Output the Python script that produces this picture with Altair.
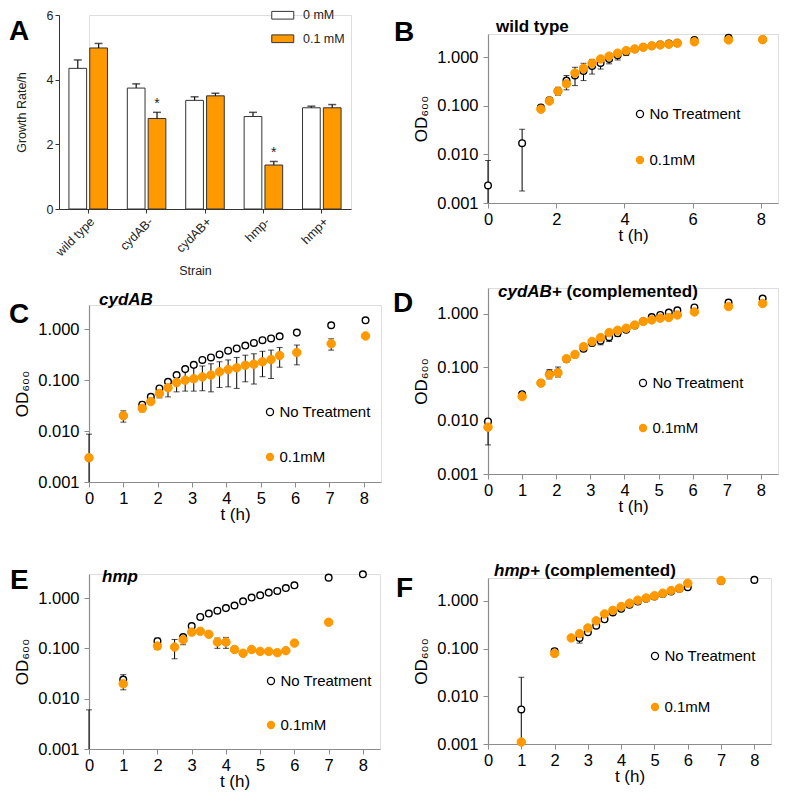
import altair as alt
import pandas as pd

FONT = "Liberation Sans"
ORANGE = "#FF9900"
GREY = "#8c8c8c"
SERIES = ["No Treatment", "0.1mM"]

# ---------------- Panel A : growth rates ----------------
strains = ["wild type", "cydAB-", "cydAB+", "hmp-", "hmp+"]
conditions = ["0 mM", "0.1 mM"]
rate_0mM = [4.35, 3.74, 3.36, 2.86, 3.13]
err_0mM = [0.26, 0.13, 0.11, 0.13, 0.05]
rate_01mM = [4.98, 2.80, 3.50, 1.36, 3.13]
err_01mM = [0.14, 0.19, 0.08, 0.11, 0.10]
sig_01mM = ["", "*", "", "*", ""]

# ---------------- Panel B : wild type ----------------
tB_nt = [0, 1, 1.55, 1.8, 2.05, 2.3, 2.55, 2.8, 3.05, 3.3, 3.55, 3.8, 4.05, 4.3, 4.55, 4.8, 5.05, 5.3, 5.55, 6.05, 7.05, 8.05]
odB_nt = [0.0023, 0.017, 0.092, 0.13, 0.2, 0.33, 0.42, 0.52, 0.66, 0.76, 0.92, 1.1, 1.3, 1.45, 1.6, 1.72, 1.82, 1.9, 1.97, 2.25, 2.5, 2.3]
tB_tr = [1.55, 1.8, 2.05, 2.3, 2.55, 2.8, 3.05, 3.3, 3.55, 3.8, 4.05, 4.3, 4.55, 4.8, 5.05, 5.3, 5.55, 6.05, 7.05, 8.05]
odB_tr = [0.085, 0.125, 0.2, 0.283, 0.47, 0.59, 0.75, 0.92, 1.05, 1.21, 1.37, 1.48, 1.6, 1.71, 1.79, 1.85, 1.94, 2.07, 2.27, 2.3]
errB_t = [0, 1, 2.05, 2.3, 2.55, 2.8, 3.05, 3.3, 3.55, 3.8, 4.05]
errB_lo = [0.001, 0.00177, 0.165, 0.213, 0.26, 0.33, 0.45, 0.57, 0.73, 0.88, 1.08]
errB_hi = [0.0075, 0.033, 0.24, 0.42, 0.62, 0.75, 0.9, 0.98, 1.12, 1.3, 1.5]

# ---------------- Panel C : cydAB ----------------
tC_nt = [0, 1, 1.55, 1.8, 2.05, 2.3, 2.55, 2.8, 3.05, 3.3, 3.55, 3.8, 4.05, 4.3, 4.55, 4.8, 5.05, 5.3, 5.55, 6.05, 7.05, 8.05]
odC_nt = [0.003, 0.02, 0.033, 0.047, 0.069, 0.093, 0.126, 0.165, 0.2, 0.25, 0.28, 0.32, 0.38, 0.42, 0.48, 0.54, 0.61, 0.66, 0.73, 0.86, 1.2, 1.5]
tC_tr = [0, 1, 1.55, 1.8, 2.05, 2.3, 2.55, 2.8, 3.05, 3.3, 3.55, 3.8, 4.05, 4.3, 4.55, 4.8, 5.05, 5.3, 5.55, 6.05, 7.05, 8.05]
odC_tr = [0.003, 0.02, 0.028, 0.038, 0.055, 0.071, 0.09, 0.1, 0.107, 0.116, 0.126, 0.146, 0.162, 0.175, 0.197, 0.206, 0.23, 0.255, 0.305, 0.35, 0.52, 0.74]
errC_t = [0, 1, 1.55, 2.05, 2.3, 2.55, 2.8, 3.05, 3.3, 3.55, 3.8, 4.05, 4.3, 4.55, 4.8, 5.05, 5.3, 5.55, 6.05, 7.05]
errC_lo = [0.001, 0.015, 0.024, 0.045, 0.047, 0.059, 0.061, 0.061, 0.062, 0.059, 0.072, 0.074, 0.069, 0.093, 0.084, 0.117, 0.108, 0.18, 0.2, 0.39]
errC_hi = [0.0087, 0.025, 0.037, 0.068, 0.1, 0.117, 0.157, 0.18, 0.19, 0.21, 0.23, 0.25, 0.28, 0.31, 0.33, 0.37, 0.39, 0.44, 0.49, 0.65]

# ---------------- Panel D : cydAB+ (complemented) ----------------
tD = [0, 1, 1.55, 1.8, 2.05, 2.3, 2.55, 2.8, 3.05, 3.3, 3.55, 3.8, 4.05, 4.3, 4.55, 4.8, 5.05, 5.3, 5.55, 6.05, 7.05, 8.05]
odD_nt = [0.0096, 0.031, 0.05, 0.075, 0.08, 0.14, 0.17, 0.22, 0.28, 0.31, 0.36, 0.43, 0.5, 0.6, 0.72, 0.86, 0.94, 1.04, 1.15, 1.3, 1.6, 1.9]
odD_tr = [0.0075, 0.028, 0.05, 0.072, 0.078, 0.143, 0.172, 0.24, 0.30, 0.355, 0.44, 0.486, 0.53, 0.61, 0.71, 0.76, 0.82, 0.84, 0.94, 1.07, 1.35, 1.54]
errD_t = [0, 1.8, 2.05, 2.8, 3.05, 3.3, 3.55, 3.8]
errD_lo = [0.0035, 0.06, 0.065, 0.2, 0.25, 0.26, 0.3, 0.37]
errD_hi = [0.0105, 0.09, 0.1, 0.27, 0.33, 0.36, 0.42, 0.47]

# ---------------- Panel E : hmp ----------------
tE_nt = [1, 2, 2.75, 3, 3.25, 3.5, 3.75, 4, 4.25, 4.5, 4.75, 5, 5.25, 5.5, 5.75, 6, 7, 8]
odE_nt = [0.024, 0.139, 0.167, 0.277, 0.42, 0.49, 0.56, 0.63, 0.71, 0.86, 1.02, 1.13, 1.28, 1.38, 1.58, 1.79, 2.54, 2.96]
tE_tr = [1, 2, 2.5, 2.75, 3, 3.25, 3.5, 3.75, 4, 4.25, 4.5, 4.75, 5, 5.25, 5.5, 5.75, 6, 7]
odE_tr = [0.0197, 0.111, 0.106, 0.148, 0.21, 0.218, 0.19, 0.133, 0.133, 0.095, 0.08, 0.095, 0.087, 0.087, 0.082, 0.09, 0.127, 0.33]
errE_t = [0, 1, 2, 2.5, 2.75, 3.75, 4, 4.25, 5.25]
errE_lo = [0.001, 0.015, 0.095, 0.062, 0.118, 0.1, 0.1, 0.085, 0.078]
errE_hi = [0.006, 0.03, 0.16, 0.15, 0.175, 0.16, 0.165, 0.1, 0.095]

# ---------------- Panel F : hmp+ (complemented) ----------------
tF_nt = [1, 2, 2.75, 3, 3.25, 3.5, 3.75, 4, 4.25, 4.5, 4.75, 5, 5.25, 5.5, 5.75, 6, 7, 8]
odF_nt = [0.0053, 0.088, 0.167, 0.22, 0.3, 0.41, 0.57, 0.68, 0.83, 0.97, 1.1, 1.23, 1.38, 1.56, 1.78, 1.93, 2.6, 2.74]
tF_tr = [1, 2, 2.5, 2.75, 3, 3.25, 3.5, 3.75, 4, 4.25, 4.5, 4.75, 5, 5.25, 5.5, 5.75, 6, 7]
odF_tr = [0.0011, 0.079, 0.167, 0.205, 0.27, 0.38, 0.53, 0.63, 0.76, 0.89, 1.03, 1.14, 1.27, 1.44, 1.64, 1.84, 2.33, 2.65]
errF_t = [1, 2, 2.75]
errF_lo = [0.001, 0.07, 0.13]
errF_hi = [0.025, 0.1, 0.2]


def text_at(txt, x, y, size, weight="bold", style="normal"):
    return alt.Chart(pd.DataFrame({"label": [txt]})).mark_text(
        align="left", baseline="alphabetic", font=FONT, fontSize=size,
        fontWeight=weight, fontStyle=style, color="black"
    ).encode(x=alt.value(x), y=alt.value(y), text="label:N")


def spacer(h):
    return alt.Chart(pd.DataFrame({"label": [" "]})).mark_text(opacity=0, fontSize=1).encode(
        x=alt.value(0), y=alt.value(0), text="label:N"
    ).properties(width=1, height=h,
                 view=alt.ViewBackground(stroke="transparent", fill="transparent", strokeWidth=0))


# ---------------- build panel A ----------------
A_W = 262          # plot width; the band scale reaches 30px left of it
dfA = pd.DataFrame({
    "strain": strains * 2,
    "cond": [conditions[0]] * 5 + [conditions[1]] * 5,
    "rate": rate_0mM + rate_01mM,
    "hi": [r + e for r, e in zip(rate_0mM, err_0mM)] + [r + e for r, e in zip(rate_01mM, err_01mM)],
    "sig": [""] * 5 + sig_01mM,
})
axA_x = alt.Axis(title="Strain", labelAngle=-45, labelFont=FONT, labelFontSize=12.5, labelColor="#222",
                 titleFont=FONT, titleFontSize=12.5, titleFontWeight="normal", titleColor="#222",
                 domainColor="#333", tickColor="#333", tickSize=4, titlePadding=6, titleX=106)
axA_y = alt.Axis(title="Growth Rate/h", values=[0, 2, 4, 6], labelFont=FONT, labelFontSize=12.5, labelColor="#222",
                 titleFont=FONT, titleFontSize=12.5, titleFontWeight="normal", titleColor="#222",
                 domainColor="#333", tickColor="#333", tickSize=4, grid=False, titlePadding=18, offset=30)
xA = alt.X("strain:N", sort=strains,
           scale=alt.Scale(paddingInner=0.34, paddingOuter=0.17, range=[-30, A_W]), axis=axA_x)
xoA = alt.XOffset("cond:N", sort=conditions, scale=alt.Scale(paddingInner=0.15))
ysA = alt.Scale(domain=[0, 6], nice=False)
legA = alt.Legend(orient="none", legendX=187.5, legendY=-6, title=None,
                  symbolType="M-2,-0.7L2,-0.7L2,0.7L-2,0.7Z", symbolSize=121,
                  symbolStrokeColor="#333", symbolStrokeWidth=1, symbolOpacity=1,
                  labelFont=FONT, labelFontSize=12.5, labelColor="#222", labelOffset=14,
                  rowPadding=10.5, padding=0)
baseA = alt.Chart(dfA)
barsA = baseA.mark_bar(stroke="#333", strokeWidth=1).encode(
    x=xA, xOffset=xoA, y=alt.Y("rate:Q", scale=ysA, axis=axA_y),
    fill=alt.Fill("cond:N", sort=conditions, scale=alt.Scale(domain=conditions, range=["white", ORANGE]), legend=legA),
)
rulesA = baseA.mark_rule(color="#111", strokeWidth=1.2).encode(
    x=xA, xOffset=xoA, y=alt.Y("rate:Q", scale=ysA, axis=axA_y), y2="hi:Q")
capsA = baseA.mark_tick(color="#111", thickness=1.5, size=8).encode(
    x=xA, xOffset=xoA, y=alt.Y("hi:Q", scale=ysA, axis=axA_y))
starsA = baseA.mark_text(baseline="bottom", dy=-1, fontSize=14, font=FONT, color="#222").encode(
    x=xA, xOffset=xoA, y=alt.Y("hi:Q", scale=ysA, axis=axA_y), text="sig:N")
panelA = alt.layer(barsA, rulesA, capsA, starsA, text_at("A", -80, 25, 28)).properties(width=A_W, height=194)


# ---------------- growth curve panels ----------------
def growth_panel(t_nt, od_nt, t_tr, od_tr, e_t, e_lo, e_hi, xticks, w, h,
                 letter, letter_pos, titles, legend_pos, legend_gap):
    df_nt = pd.DataFrame({"t": list(t_nt), "od": list(od_nt), "series": [SERIES[0]] * len(t_nt)})
    df_tr = pd.DataFrame({"t": list(t_tr), "od": list(od_tr), "series": [SERIES[1]] * len(t_tr)})
    df_err = pd.DataFrame({"t": e_t, "lo": e_lo, "hi": e_hi})
    cap_t, cap_v = [], []
    for t, lo, hi in zip(e_t, e_lo, e_hi):
        if lo > 0.00105:
            cap_t.append(t)
            cap_v.append(lo)
        cap_t.append(t)
        cap_v.append(hi)
    df_cap = pd.DataFrame({"t": cap_t, "od": cap_v})

    xaxis = alt.Axis(values=xticks, format="d", title="t (h)", grid=False,
                     domainColor=GREY, tickColor=GREY, tickSize=5, domainWidth=1.2,
                     labelFont=FONT, labelFontSize=16.5, labelColor="black", labelPadding=3,
                     labelFlush=False, labelOverlap=False,
                     titleFont=FONT, titleFontSize=17, titleFontWeight="normal", titleColor="black",
                     titlePadding=0)
    yaxis = alt.Axis(values=[0.001, 0.01, 0.1, 1], format=".3f", title="OD₆₀₀", grid=False,
                     domainColor=GREY, tickColor=GREY, tickSize=5, domainWidth=1.2,
                     labelFont=FONT, labelFontSize=16.5, labelColor="black", labelPadding=5,
                     labelOverlap=False,
                     titleFont=FONT, titleFontSize=17, titleFontWeight="normal", titleColor="black",
                     titlePadding=6)
    xs = alt.Scale(domain=[0, 8.5], nice=False, zero=False)
    ys = alt.Scale(type="log", domain=[0.001, 3], nice=False)
    leg = alt.Legend(orient="none", legendX=legend_pos[0] - 3.5, legendY=legend_pos[1] - 7.5, title=None,
                     labelFont=FONT, labelFontSize=15, labelColor="black", symbolSize=50,
                     symbolStrokeWidth=1.3, symbolOpacity=1, rowPadding=legend_gap - 15,
                     labelOffset=2, padding=0)
    fill = alt.Fill("series:N", scale=alt.Scale(domain=SERIES, range=["white", ORANGE]), legend=leg)
    stroke = alt.Stroke("series:N", scale=alt.Scale(domain=SERIES, range=["black", ORANGE]), legend=leg)

    rules = alt.Chart(df_err).mark_rule(color="black", strokeWidth=1).encode(
        x=alt.X("t:Q", scale=xs, axis=xaxis),
        y=alt.Y("lo:Q", scale=ys, axis=yaxis),
        y2="hi:Q",
    )
    caps = alt.Chart(df_cap).mark_tick(orient="horizontal", color="black", size=6, thickness=1).encode(
        x=alt.X("t:Q", scale=xs, axis=xaxis),
        y=alt.Y("od:Q", scale=ys, axis=yaxis),
    )
    pts_nt = alt.Chart(df_nt).mark_point(shape="circle", filled=True, opacity=1, strokeWidth=1.4, size=44).encode(
        x=alt.X("t:Q", scale=xs, axis=xaxis), y=alt.Y("od:Q", scale=ys, axis=yaxis),
        fill=fill, stroke=stroke)
    pts_tr = alt.Chart(df_tr).mark_point(shape="circle", filled=True, opacity=1, strokeWidth=1, size=72).encode(
        x=alt.X("t:Q", scale=xs, axis=xaxis), y=alt.Y("od:Q", scale=ys, axis=yaxis),
        fill=fill, stroke=stroke)
    layers = [rules, caps, pts_nt, pts_tr, text_at(letter, letter_pos[0], letter_pos[1], 28)]
    for txt, x, y, style in titles:
        layers.append(text_at(txt, x, y, 17, "bold", style))
    return alt.layer(*layers).properties(width=w, height=h)


panelB = growth_panel(tB_nt, odB_nt, tB_tr, odB_tr, errB_t, errB_lo, errB_hi, [0, 2, 4, 6, 8],
                      290, 169, "B", (-94, 7), [("wild type", 8, -2, "normal")], (148, 80), 45)
panelC = growth_panel(tC_nt, odC_nt, tC_tr, odC_tr, errC_t, errC_lo, errC_hi, list(range(9)),
                      292, 177, "C", (-80, 18), [("cydAB", 10, 0, "italic")], (177, 107), 44)
panelD = growth_panel(tD, odD_nt, tD, odD_tr, errD_t, errD_lo, errD_hi, list(range(9)),
                      290, 186, "D", (-95, 24),
                      [("cydAB+", 10, 9, "italic"), ("(complemented)", 78.5, 9, "normal")], (151, 95), 44)
panelE = growth_panel(tE_nt, odE_nt, tE_tr, odE_tr, errE_t, errE_lo, errE_hi, list(range(9)),
                      291, 175, "E", (-79, 15), [("hmp", 13, 8, "italic")], (178, 107), 43)
panelF = growth_panel(tF_nt, odF_nt, tF_tr, odF_tr, errF_t, errF_lo, errF_hi, list(range(9)),
                      283, 166, "F", (-92, 19),
                      [("hmp+", 6, -2, "italic"), ("(complemented)", 56.5, -2, "normal")], (163, 78), 50)


def indep(c):
    return c.resolve_scale(fill="independent", stroke="independent").resolve_legend(
        fill="independent", stroke="independent")


col1 = indep(alt.vconcat(spacer(3), panelA, spacer(96), panelC, spacer(92), panelE,
                         spacing=0, bounds="flush"))
col2 = indep(alt.vconcat(spacer(22), panelB, spacer(85), panelD, spacer(104), panelF,
                         spacing=0, bounds="flush"))

chart = indep(alt.hconcat(col1, col2, spacing=10)).properties(padding=0).configure_view(
    stroke="transparent", strokeWidth=0
).configure(font=FONT, background="white")

chart.save("out.html", embed_options={"renderer": "svg", "actions": False})
